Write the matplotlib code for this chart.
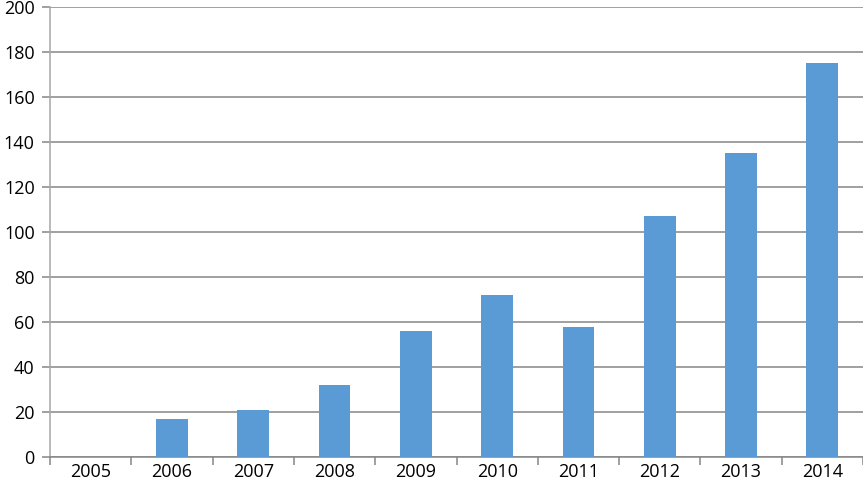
import numpy as np
import matplotlib.pyplot as plt

years = ['2005', '2006', '2007', '2008', '2009', '2010', '2011', '2012', '2013', '2014']
values = [0, 17, 21, 32, 56, 72, 58, 107, 135, 175]

plt.rcParams['font.family'] = ['Open Sans', 'DejaVu Sans']

fig = plt.figure(figsize=(8.63, 4.91), dpi=100)
ax = fig.add_axes([50 / 863, 34 / 491, 813 / 863, 450 / 491])

x = np.arange(len(years))
ax.bar(x, values, width=0.39, color='#5B9BD5', zorder=3)

ax.set_xlim(-0.5, len(years) - 0.5)
ax.set_ylim(0, 200)
ax.set_yticks(np.arange(0, 201, 20))
ax.yaxis.grid(True, color='#868686', linewidth=1.1, zorder=0)

# category labels centred, tick marks on the boundaries
ax.set_xticks(x)
ax.set_xticklabels(years)
ax.set_xticks(np.arange(-0.5, len(years)), minor=True)
ax.tick_params(axis='x', which='major', length=0, pad=4, labelsize=13)
ax.tick_params(axis='x', which='minor', length=6, color='#868686', width=1.1)
ax.tick_params(axis='y', length=6, color='#868686', width=1.1, pad=5, labelsize=13)

for side in ['top', 'right']:
    ax.spines[side].set_visible(False)
ax.spines['left'].set_color('#A6A6A6')
ax.spines['bottom'].set_color('#868686')
for side in ['left', 'bottom']:
    ax.spines[side].set_linewidth(1.1)

fig.savefig('out.png', dpi=100)
